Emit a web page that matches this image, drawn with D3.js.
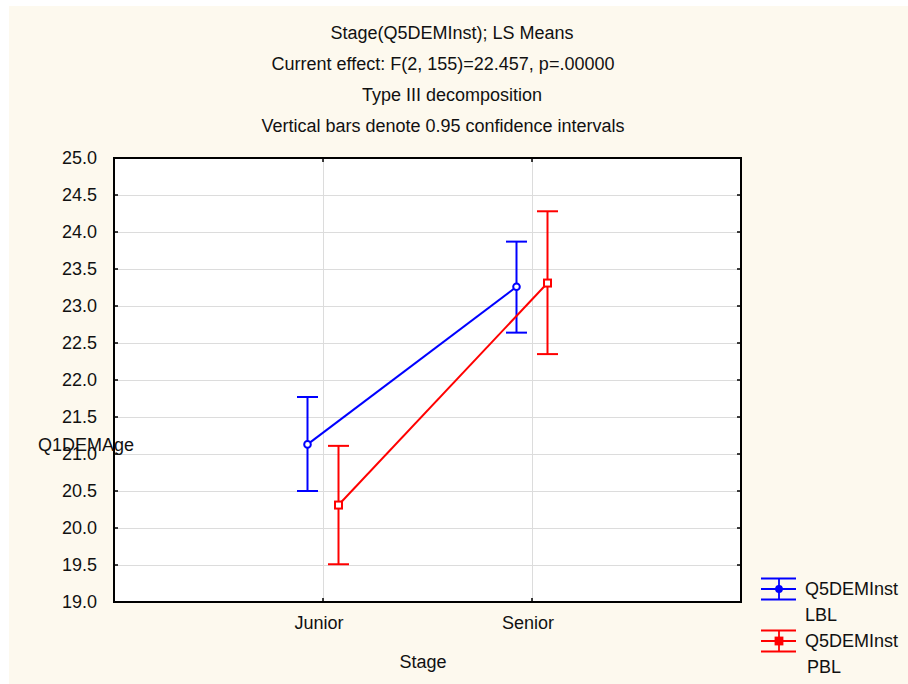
<!DOCTYPE html>
<html lang="en">
<head>
<meta charset="UTF-8"/>
<title>LS Means</title>
<script src="https://cdn.jsdelivr.net/npm/d3@7"></script>
<style>
  body { margin: 0; background: #ffffff; }
  svg { display: block; font-family: "Liberation Sans", Arial, sans-serif; }
  .grid line { stroke: #dcdcdc; stroke-width: 1; }
  .grid path { display: none; }
  .lab { font-size: 18px; fill: #111; }
</style>
</head>
<body>
<svg width="908" height="684"></svg>
<script>
// chart data
const stages = ['Junior', 'Senior'];
const seriesNames = ['LBL', 'PBL'];
const lblMean = [21.13, 23.26];
const lblLow  = [20.50, 22.64];
const lblHigh = [21.77, 23.87];
const pblMean = [20.31, 23.31];
const pblLow  = [19.51, 22.35];
const pblHigh = [21.11, 24.28];
const yTicks = [19.0, 19.5, 20.0, 20.5, 21.0, 21.5, 22.0, 22.5, 23.0, 23.5, 24.0, 24.5, 25.0];
const titles = [
  'Stage(Q5DEMInst); LS Means',
  'Current effect: F(2, 155)=22.457, p=.00000',
  'Type III decomposition',
  'Vertical bars denote 0.95 confidence intervals'
];

const series = [
  { name: seriesNames[0], color: '#0000ff', shape: 'circle', mean: lblMean, low: lblLow, high: lblHigh, dx: -15.5 },
  { name: seriesNames[1], color: '#ff0000', shape: 'square', mean: pblMean, low: pblLow, high: pblHigh, dx: 15.5 }
];

const svg = d3.select('svg');
const plotL = 114, plotR = 741, plotT = 158, plotB = 602;

// cream backdrop
svg.append('rect')
  .attr('x', 9).attr('y', 6).attr('width', 899).attr('height', 678)
  .attr('fill', '#fdf9ee');

svg.append('rect')
  .attr('x', plotL).attr('y', plotT)
  .attr('width', plotR - plotL).attr('height', plotB - plotT)
  .attr('fill', '#ffffff');

const x = d3.scalePoint().domain(stages).range([plotL, plotR]).padding(1);
const y = d3.scaleLinear().domain([19, 25]).range([plotB, plotT]);

// grid
svg.append('g').attr('class', 'grid')
  .attr('transform', `translate(${plotL},0)`)
  .call(d3.axisLeft(y).tickValues(yTicks.slice(1, -1)).tickSize(-(plotR - plotL)).tickFormat(''));
svg.append('g').attr('class', 'grid')
  .attr('transform', `translate(0,${plotB})`)
  .call(d3.axisBottom(x).tickSize(-(plotB - plotT)).tickFormat(''));

// small inward ticks on all sides
const tk = 4;
const ticks = svg.append('g').attr('stroke', '#000').attr('stroke-width', 1.5);
yTicks.forEach(v => {
  ticks.append('line').attr('x1', plotL).attr('x2', plotL + tk).attr('y1', y(v)).attr('y2', y(v));
  ticks.append('line').attr('x1', plotR - tk).attr('x2', plotR).attr('y1', y(v)).attr('y2', y(v));
});
stages.forEach(s => {
  ticks.append('line').attr('x1', x(s)).attr('x2', x(s)).attr('y1', plotB).attr('y2', plotB - tk);
  ticks.append('line').attr('x1', x(s)).attr('x2', x(s)).attr('y1', plotT).attr('y2', plotT + tk);
});

// tick labels
svg.append('g').selectAll('text').data(yTicks).enter().append('text')
  .attr('class', 'lab')
  .attr('x', 97).attr('y', d => y(d) + 6)
  .attr('text-anchor', 'end')
  .text(d => d.toFixed(1));

svg.append('g').selectAll('text').data(stages).enter().append('text')
  .attr('class', 'lab')
  .attr('x', d => x(d) - 4).attr('y', 629)
  .attr('text-anchor', 'middle')
  .text(d => d);

// series
const capW = 10.5;
series.forEach(s => {
  const g = svg.append('g').attr('stroke', s.color).attr('fill', 'none');
  const line = d3.line().x((d, i) => x(stages[i]) + s.dx).y(d => y(d));
  g.append('path').attr('d', line(s.mean)).attr('stroke-width', 2);

  stages.forEach((st, i) => {
    const cx = x(st) + s.dx;
    g.append('line').attr('x1', cx).attr('x2', cx)
      .attr('y1', y(s.low[i])).attr('y2', y(s.high[i])).attr('stroke-width', 2);
    [s.low[i], s.high[i]].forEach(v => {
      g.append('line').attr('x1', cx - capW).attr('x2', cx + capW)
        .attr('y1', y(v)).attr('y2', y(v)).attr('stroke-width', 2);
    });
    if (s.shape === 'circle') {
      g.append('circle').attr('cx', cx).attr('cy', y(s.mean[i])).attr('r', 3.3)
        .attr('fill', '#fff').attr('stroke-width', 2);
    } else {
      g.append('rect').attr('x', cx - 3.5).attr('y', y(s.mean[i]) - 3.5)
        .attr('width', 7).attr('height', 7).attr('fill', '#fff').attr('stroke-width', 2);
    }
  });
});

// frame
svg.append('rect')
  .attr('x', plotL).attr('y', plotT)
  .attr('width', plotR - plotL).attr('height', plotB - plotT)
  .attr('fill', 'none').attr('stroke', '#000').attr('stroke-width', 2);

// titles (lines 1 and 3 sit a little right in the original)
const titleShift = [9, 0, 9, 0];
svg.append('g').selectAll('text').data(titles).enter().append('text')
  .attr('class', 'lab')
  .attr('x', (d, i) => 443 + titleShift[i]).attr('y', (d, i) => 39 + i * 31)
  .attr('text-anchor', 'middle')
  .text(d => d);

svg.append('text').attr('class', 'lab')
  .attr('x', 423).attr('y', 668).attr('text-anchor', 'middle')
  .text('Stage');

svg.append('text').attr('class', 'lab')
  .attr('x', 38).attr('y', 451)
  .text('Q1DEMAge');

// legend
series.forEach((s, i) => {
  const cy = 589 + i * 52;
  const lg = svg.append('g').attr('stroke', s.color).attr('fill', 'none').attr('stroke-width', 1.8);
  [-10.5, 0, 10.5].forEach(o => {
    lg.append('line').attr('x1', 761).attr('x2', 796).attr('y1', cy + o).attr('y2', cy + o);
  });
  lg.append('line').attr('x1', 779).attr('x2', 779).attr('y1', cy - 10.5).attr('y2', cy + 10.5);
  if (s.shape === 'circle') {
    lg.append('circle').attr('cx', 779).attr('cy', cy).attr('r', 3).attr('fill', s.color);
  } else {
    lg.append('rect').attr('x', 775.5).attr('y', cy - 3.5).attr('width', 7).attr('height', 7).attr('fill', s.color);
  }
  svg.append('text').attr('class', 'lab').attr('x', 805).attr('y', cy + 6).text('Q5DEMInst');
  svg.append('text').attr('class', 'lab').attr('x', 805 + i * 2).attr('y', cy + 32).text(s.name);
});
</script>
</body>
</html>
